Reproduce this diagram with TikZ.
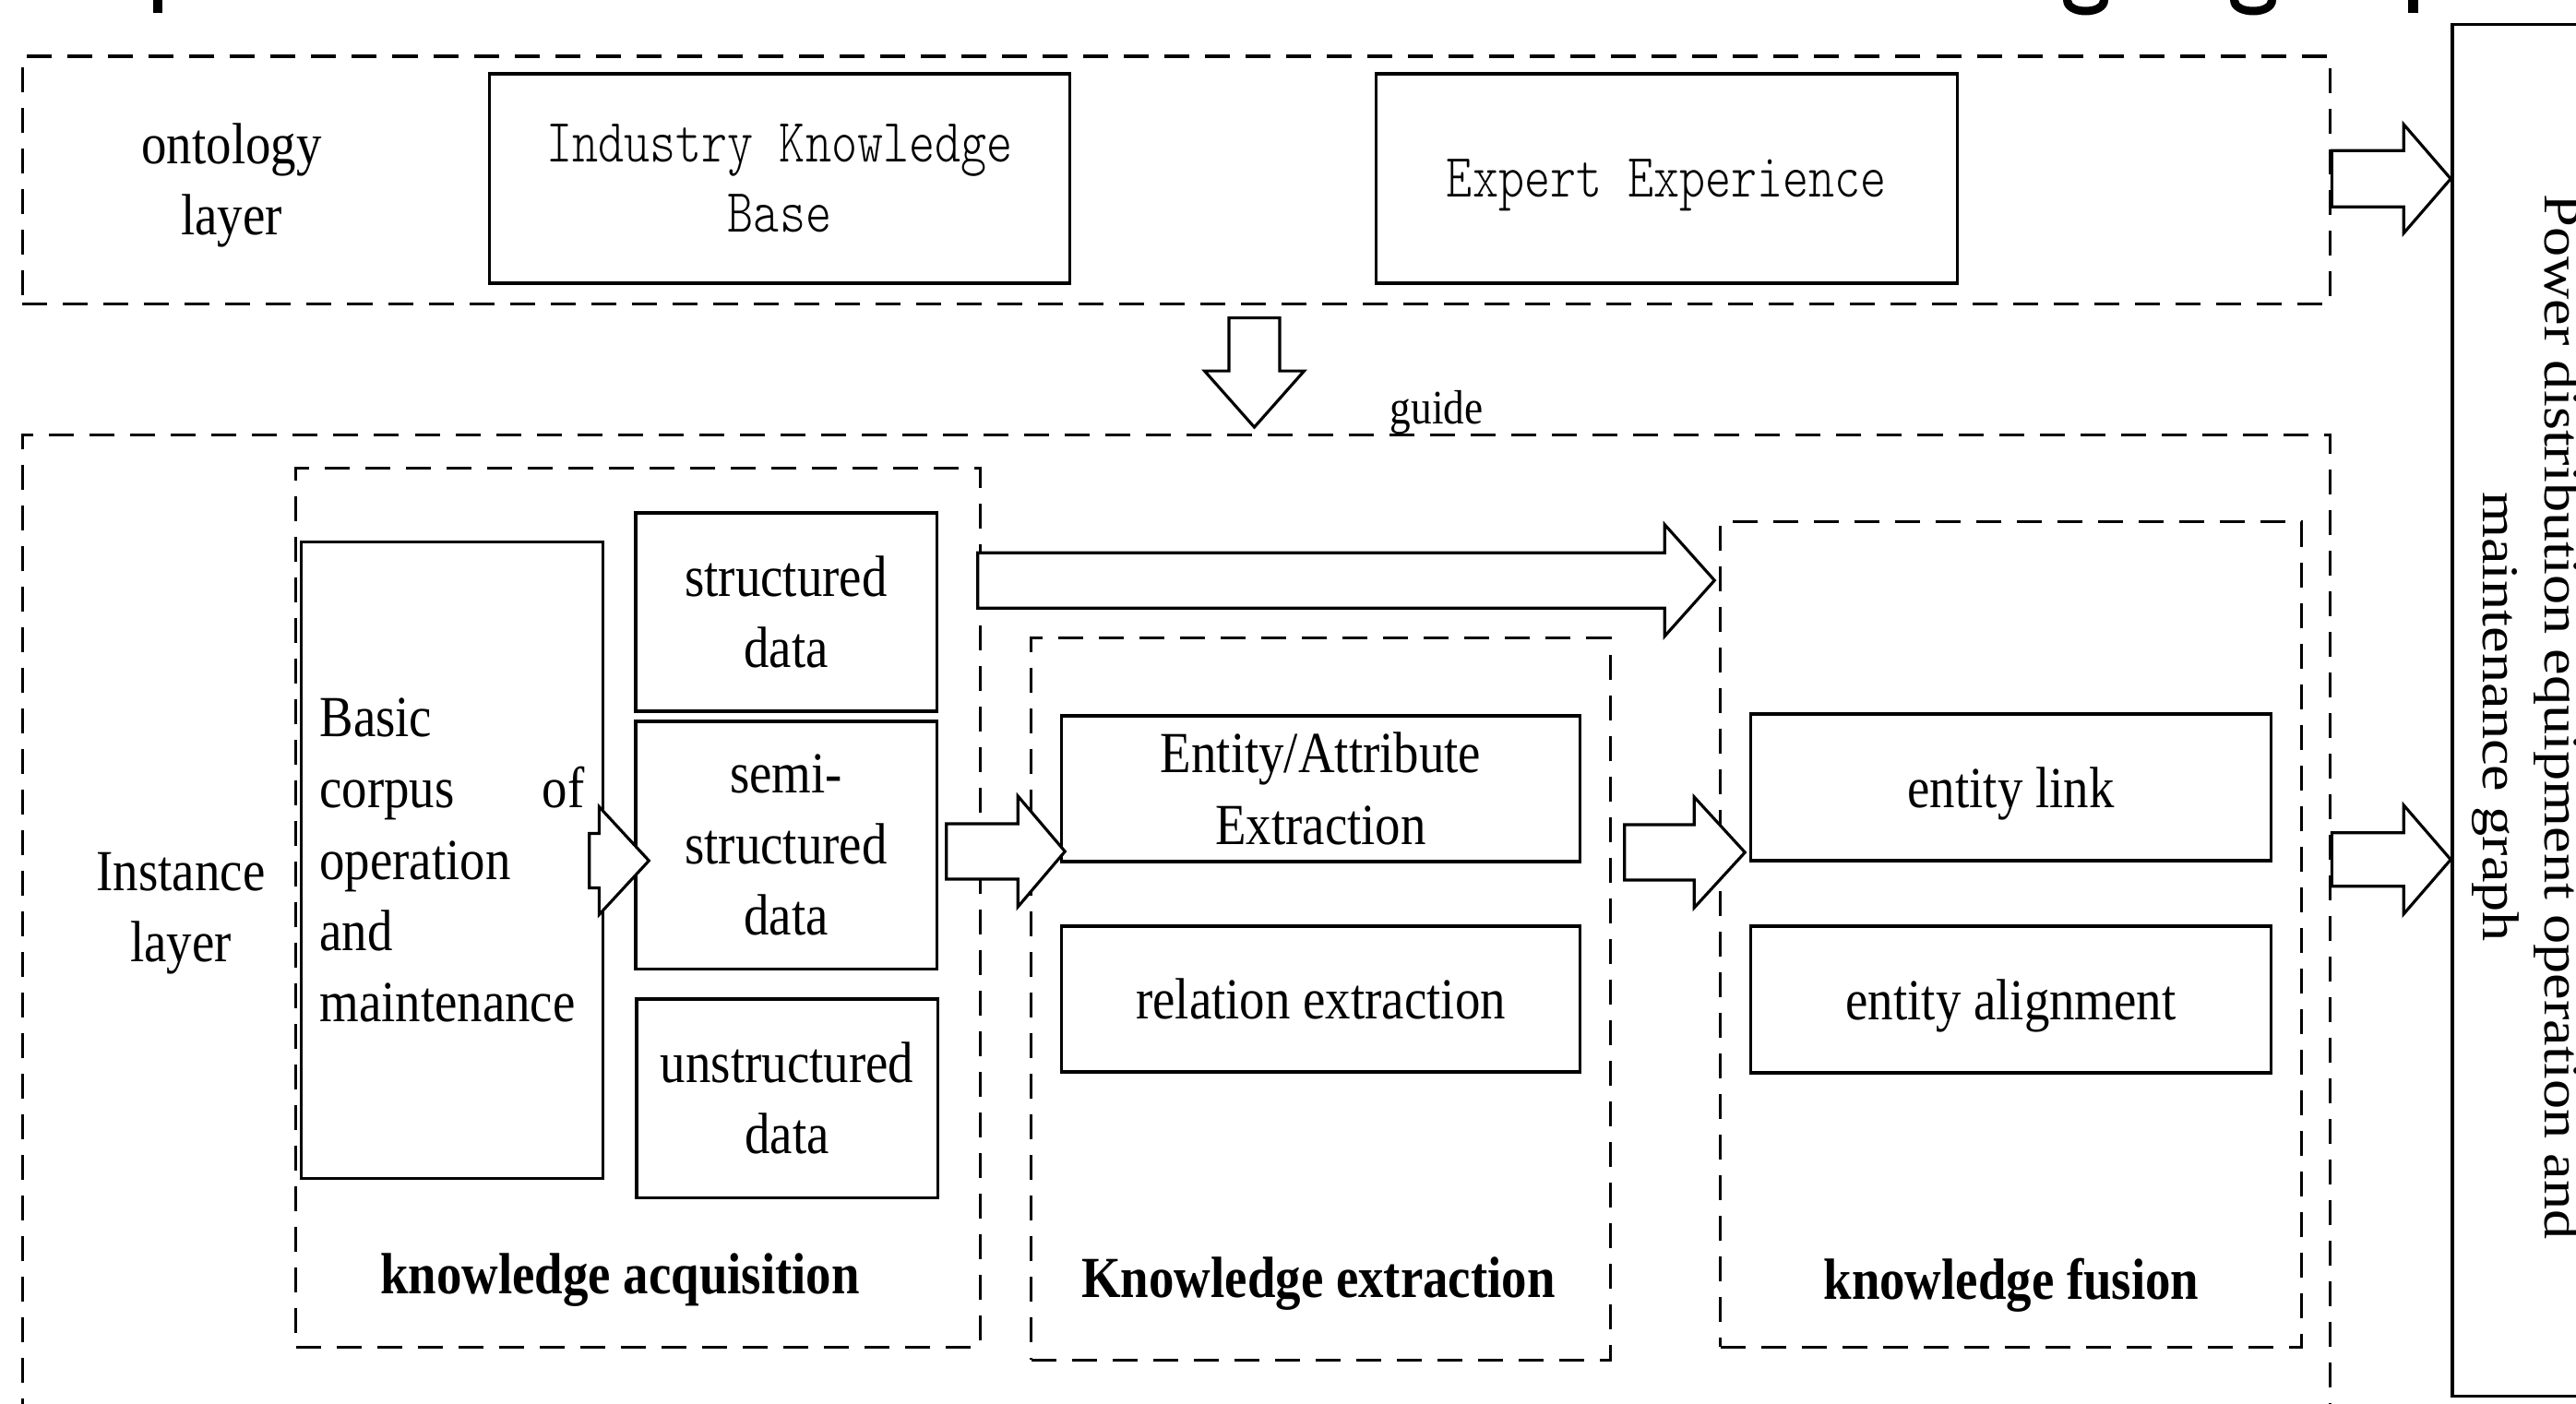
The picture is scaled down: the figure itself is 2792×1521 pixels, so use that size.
\documentclass[tikz,border=0pt]{standalone}
\usepackage{fontspec}
\setmainfont{Liberation Serif}
\newfontfamily\serifn[FakeStretch=0.87]{Liberation Serif}
\newfontfamily\serifr{Liberation Serif}
\newfontfamily\monon[FakeStretch=0.80]{lmmonolt10-regular.otf}
\newcommand\fsz{\fontsize{17.93pt}{22pt}\selectfont}
\newcommand\msz{\fontsize{19pt}{21.6pt}\selectfont}
\usetikzlibrary{calc}
\newcommand\hblock[5]{\draw[blk] ($(#1 |- #2)+(0,-#3)$) -- ($(#2)+(-#5,-#3)$) -- ($(#2)+(-#5,-#4)$) -- (#2) -- ($(#2)+(-#5,#4)$) -- ($(#2)+(-#5,#3)$) -- ($(#1 |- #2)+(0,#3)$) -- cycle;}
\tikzset{
 sbox/.style={draw, line width=0.9pt, inner sep=0pt, align=center, font=\serifn\fsz},
 dbox/.style={draw, line width=0.9pt, dash pattern=on 0.27cm off 0.17cm, inner sep=0pt},
 blk/.style={draw, fill=white, line width=0.9pt, line join=miter},
 lbl/.style={font=\serifn\fsz, align=center, inner sep=0pt},
 blbl/.style={font=\serifn\bfseries\fsz, inner sep=0pt, anchor=base},
}
\begin{document}
\begin{tikzpicture}[x=0.01cm, y=-0.01cm]
\useasboundingbox (0,0) rectangle (2792,1521);
\clip (0,0) rectangle (2792,1521);
% fragments of cut-off caption
\fill (166,0) rectangle (176,14);
\fill (2610,0) rectangle (2621,14);
\fill (2236,0) .. controls (2236,22) and (2285,22) .. (2285,0) -- (2276,0) .. controls (2276,10) and (2245,10) .. (2245,0) -- cycle;
\fill (2417,0) .. controls (2417,22) and (2467,22) .. (2467,0) -- (2458,0) .. controls (2458,10) and (2426,10) .. (2426,0) -- cycle;
% ontology layer
\node[dbox, minimum width=25cm, minimum height=2.68cm] (onto) at (1275,195) {};
\node[lbl] (ontolbl) at (251,201) {ontology\\layer};
\node[sbox, font=\monon\msz, minimum width=6.28cm, minimum height=2.27cm] (ind) at (845,193.5) {Industry Knowledge\\Base};
\node[sbox, font=\monon\msz, text depth=0pt, minimum width=6.29cm, minimum height=2.27cm] (exp) at (1806.5,193.5) {Expert Experience};
% instance layer
\node[dbox, minimum width=25cm, minimum height=11.28cm] (inst) at (1275,1036) {};
\node[lbl] (instlbl) at (196,990) {Instance\\layer};
\node[font=\serifn\fontsize{14.8pt}{18pt}\selectfont, inner sep=0pt, anchor=base] (guide) at (1557,459) {guide};
\node[dbox, minimum width=7.41cm, minimum height=9.52cm] (acq) at (691.5,984) {};
\node[dbox, minimum width=6.27cm, minimum height=7.82cm] (ext) at (1431.5,1083) {};
\node[dbox, minimum width=6.29cm, minimum height=8.94cm] (fus) at (2179.5,1013) {};
\node[sbox, minimum width=3.26cm, minimum height=6.89cm, text width=2.87cm, align=left] (corpus) at (490,932.5) {Basic\\\makebox[2.87cm][l]{corpus\hfill of}\\operation\\and\\maintenance};
\node[sbox, minimum width=3.26cm, minimum height=2.15cm] (struct) at (852,663.5) {structured\\data};
\node[sbox, minimum width=3.26cm, minimum height=2.68cm] (semi) at (852,916) {semi-\\structured\\data};
\node[sbox, minimum width=3.26cm, minimum height=2.15cm] (unstr) at (853,1190.5) {unstructured\\data};
\node[sbox, minimum width=5.61cm, minimum height=1.58cm] (ea) at (1431.5,855) {Entity/Attribute\\Extraction};
\node[sbox, text depth=0pt, minimum width=5.61cm, minimum height=1.58cm] (rel) at (1431.5,1083) {relation extraction};
\node[sbox, text depth=0pt, minimum width=5.63cm, minimum height=1.59cm] (link) at (2179.5,853.5) {entity link};
\node[sbox, text depth=0pt, minimum width=5.63cm, minimum height=1.59cm] (aln) at (2179.5,1083.5) {entity alignment};
\node[blbl] (acqlbl) at (672,1402) {knowledge acquisition};
\node[blbl] (extlbl) at (1429,1406) {Knowledge extraction};
\node[blbl] (fuslbl) at (2180,1408) {knowledge fusion};
% output graph
\node[draw, line width=1pt, minimum width=1.92cm, minimum height=14.86cm, inner sep=0pt] (graph) at (2754,770) {};
\node[font=\serifr\fontsize{18.3pt}{22pt}\selectfont, align=center, inner sep=0pt, rotate=-90, yscale=0.87] (graphtxt) at (2738,777) {Power distribution equipment operation and\\maintenance graph};
% block arrows
\coordinate (a1t) at ($(graph.north west)+(0,169)$);
\hblock{onto.east}{a1t}{30.5}{59}{51}
\coordinate (a2t) at ($(graph.north west)+(0,907)$);
\hblock{inst.east}{a2t}{29}{59}{51}
\coordinate (a4s) at ($(acq.east)+(-4,0)$);
\coordinate (a4t) at ($(fus.north west)+(-5,65)$);
\hblock{a4s}{a4t}{30}{60.5}{54}
\coordinate (a5s) at ($(corpus.east)+(-16,0)$);
\coordinate (a5t) at ($(semi.west)+(16,17)$);
\hblock{a5s}{a5t}{29.5}{58.5}{54}
\coordinate (a6s) at ($(semi.east)+(9,0)$);
\coordinate (a6t) at ($(ea.west)+(5,68)$);
\hblock{a6s}{a6t}{30}{60}{51}
\coordinate (a7s) at ($(ea.east)+(47,0)$);
\coordinate (a7t) at ($(link.west)+(-5,70.5)$);
\hblock{a7s}{a7t}{30}{60}{55}
\coordinate (a3s) at ($(onto.south)+(84.5,14)$);
\coordinate (a3t) at ($(inst.north)+(84.5,-7)$);
\draw[blk] ($(a3s)+(-27.5,0)$) -- ($(a3t)+(-27.5,-61)$) -- ($(a3t)+(-54,-61)$) -- (a3t) -- ($(a3t)+(54,-61)$) -- ($(a3t)+(27.5,-61)$) -- ($(a3s)+(27.5,0)$) -- cycle;
\end{tikzpicture}
\end{document}
